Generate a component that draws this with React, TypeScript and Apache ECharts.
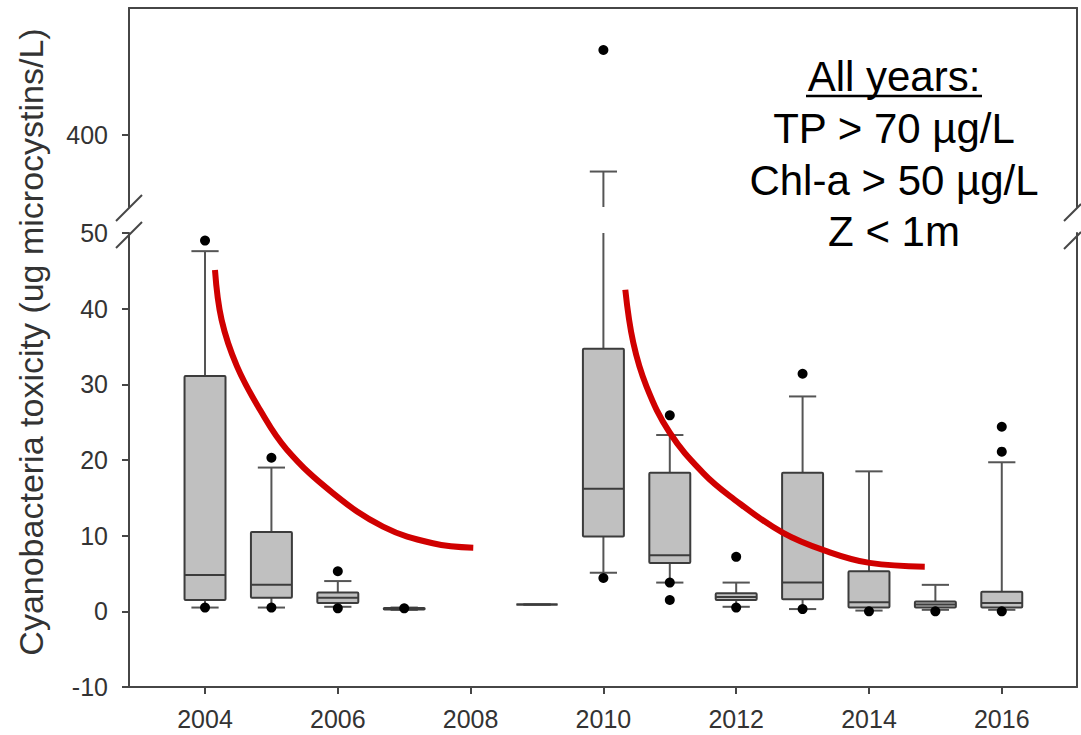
import React, { useEffect, useRef } from "react";
import * as echarts from "echarts";

// ---- data ----
const years = [2004, 2005, 2006, 2007, 2009, 2010, 2011, 2012, 2013, 2014, 2015, 2016];
const whiskerLow = [0.5, 0.5, 0.6, 0.2, 0.9, 5.1, 3.8, 0.6, 0.3, 0.1, 0.2, 0.2];
const quartile1 = [1.5, 1.8, 1.1, 0.25, 0.9, 9.9, 6.4, 1.5, 1.6, 0.5, 0.5, 0.5];
const medians = [4.8, 3.5, 1.8, 0.35, 0.9, 16.2, 7.4, 1.9, 3.8, 1.2, 0.9, 1.1];
const quartile3 = [31.1, 10.5, 2.5, 0.45, 0.9, 34.7, 18.3, 2.4, 18.3, 5.3, 1.3, 2.6];
const whiskerHigh = [47.6, 19.0, 4.0, 0.5, 0.9, 349, 23.3, 3.8, 28.4, 18.5, 3.5, 19.7];

const outliers: [number, number][] = [
  [2004, 49.0], [2004, 0.5],
  [2005, 20.3], [2005, 0.5],
  [2006, 5.3], [2006, 0.4],
  [2007, 0.4],
  [2010, 4.4],
  [2011, 25.9], [2011, 3.8], [2011, 1.5],
  [2012, 7.2], [2012, 0.5],
  [2013, 31.4], [2013, 0.3],
  [2014, 0.0],
  [2015, 0.0],
  [2016, 24.4], [2016, 21.1], [2016, 0.0],
];
const upperOutliers: [number, number][] = [[2010, 517]];

const curveA: [number, number][] = [
  [2004.15, 45.1], [2004.25, 38.5], [2004.48, 32.4], [2004.83, 26.6],
  [2005.23, 21.4], [2005.93, 15.6], [2006.68, 11.2], [2007.43, 9.0], [2008.04, 8.4],
];
const curveB: [number, number][] = [
  [2010.33, 42.5], [2010.45, 35.5], [2010.65, 29.7], [2011.0, 23.6], [2011.5, 18.3],
  [2011.91, 15.2], [2012.7, 10.4], [2013.41, 7.8], [2014.01, 6.4], [2014.84, 5.9],
];

const xTickLabels = [2004, 2006, 2008, 2010, 2012, 2014, 2016];
const lowerRange = [-10, 50];
const upperRange = [300, 575];
const upperTicks = [400];
const noteLines = ["All years:", "TP > 70 µg/L", "Chl-a > 50 µg/L", "Z < 1m"];

// ---- styles ----
const FONT = "'Liberation Sans', Arial, Helvetica, sans-serif";
const AXIS_COLOR = "#464646";
const BOX_W = 0.617;
const CAP_W = 0.41;
const BOX_FILL = "#c0c0c0";
const BOX_STROKE = "#3c3c3c";
const WHISKER = "#555555";
const RED = "#d00000";

const X_MIN = 2002.855;
const X_MAX = 2017.133;

export default function App() {
  const ref = useRef<HTMLDivElement>(null);

  useEffect(() => {
    document.body.style.margin = "0";
    if (!ref.current) return;
    const chart = echarts.init(ref.current, undefined, { renderer: "svg" });

    const boxData = years.map((y, i) => [
      y, whiskerLow[i], quartile1[i], medians[i], quartile3[i], whiskerHigh[i],
    ]);
    const upperWhiskers = years
      .map((y, i) => [y, whiskerHigh[i]])
      .filter((d) => d[1] > upperRange[0]);

    const renderLower = (params: any, api: any) => {
      const x = api.value(0);
      const lo = api.value(1);
      const q1 = api.value(2);
      const med = api.value(3);
      const q3 = api.value(4);
      const hi = api.value(5);
      const top = lowerRange[1];
      const bw = api.size([BOX_W, 0])[0];
      const cw = api.size([CAP_W, 0])[0];
      const pLo = api.coord([x, lo]);
      const pQ1 = api.coord([x, q1]);
      const pMed = api.coord([x, med]);
      const pQ3 = api.coord([x, q3]);
      const pHi = api.coord([x, Math.min(hi, top)]);
      const cx = pQ1[0];
      const wStyle = { stroke: WHISKER, lineWidth: 2 };
      const children: any[] = [
        { type: "line", shape: { x1: cx, y1: pQ1[1], x2: cx, y2: pLo[1] }, style: wStyle },
        { type: "line", shape: { x1: cx - cw / 2, y1: pLo[1], x2: cx + cw / 2, y2: pLo[1] }, style: wStyle },
        { type: "line", shape: { x1: cx, y1: pQ3[1], x2: cx, y2: pHi[1] }, style: wStyle },
      ];
      if (hi <= top) {
        children.push({
          type: "line",
          shape: { x1: cx - cw / 2, y1: pHi[1], x2: cx + cw / 2, y2: pHi[1] },
          style: wStyle,
        });
      }
      children.push({
        type: "rect",
        shape: { x: cx - bw / 2, y: pQ3[1], width: bw, height: pQ1[1] - pQ3[1], r: 1 },
        style: { fill: BOX_FILL, stroke: BOX_STROKE, lineWidth: 2 },
      });
      children.push({
        type: "line",
        shape: { x1: cx - bw / 2, y1: pMed[1], x2: cx + bw / 2, y2: pMed[1] },
        style: { stroke: BOX_STROKE, lineWidth: 2 },
      });
      return { type: "group", children };
    };

    const renderUpper = (params: any, api: any) => {
      const x = api.value(0);
      const hi = api.value(1);
      const cw = api.size([CAP_W, 0])[0];
      const pBase = api.coord([x, upperRange[0]]);
      const pHi = api.coord([x, hi]);
      const cx = pHi[0];
      const wStyle = { stroke: WHISKER, lineWidth: 2 };
      return {
        type: "group",
        children: [
          { type: "line", shape: { x1: cx, y1: pBase[1], x2: cx, y2: pHi[1] }, style: wStyle },
          { type: "line", shape: { x1: cx - cw / 2, y1: pHi[1], x2: cx + cw / 2, y2: pHi[1] }, style: wStyle },
        ],
      };
    };

    const axisLine = { show: true, onZero: false, lineStyle: { color: AXIS_COLOR, width: 2 } };
    const labelStyle = { color: "#333", fontSize: 25, fontFamily: FONT };

    const noteCenters = [76, 128, 180, 231];

    chart.setOption({
      animation: false,
      grid: [
        { left: 129, right: 4, top: 233, height: 454 },
        { left: 129, right: 4, top: 8, height: 199 },
      ],
      xAxis: [
        {
          gridIndex: 0, type: "value", min: X_MIN, max: X_MAX, position: "bottom",
          axisLine,
          axisTick: { show: true, length: 7, customValues: xTickLabels, lineStyle: { color: AXIS_COLOR, width: 2 } },
          axisLabel: { ...labelStyle, margin: 19, customValues: xTickLabels, formatter: (v: number) => String(v) },
          splitLine: { show: false },
        },
        {
          gridIndex: 1, type: "value", min: X_MIN, max: X_MAX, position: "top",
          axisLine, axisTick: { show: false }, axisLabel: { show: false }, splitLine: { show: false },
        },
      ],
      yAxis: [
        {
          gridIndex: 0, type: "value", min: lowerRange[0], max: lowerRange[1], interval: 10, position: "left",
          axisLine,
          axisTick: { show: true, length: 7, lineStyle: { color: AXIS_COLOR, width: 2 } },
          axisLabel: { ...labelStyle, margin: 21 },
          splitLine: { show: false },
        },
        {
          gridIndex: 1, type: "value", min: upperRange[0], max: upperRange[1], position: "left",
          axisLine,
          axisTick: { show: true, length: 7, customValues: upperTicks, lineStyle: { color: AXIS_COLOR, width: 2 } },
          axisLabel: { ...labelStyle, margin: 21, customValues: upperTicks },
          splitLine: { show: false },
        },
        {
          gridIndex: 0, type: "value", min: lowerRange[0], max: lowerRange[1], position: "right",
          axisLine, axisTick: { show: false }, axisLabel: { show: false }, splitLine: { show: false },
        },
        {
          gridIndex: 1, type: "value", min: upperRange[0], max: upperRange[1], position: "right",
          axisLine, axisTick: { show: false }, axisLabel: { show: false }, splitLine: { show: false },
        },
      ],
      series: [
        {
          type: "custom", xAxisIndex: 0, yAxisIndex: 0, renderItem: renderLower,
          data: boxData, encode: { x: 0, y: [1, 2, 3, 4, 5] }, z: 2,
        },
        {
          type: "custom", xAxisIndex: 1, yAxisIndex: 1, renderItem: renderUpper,
          data: upperWhiskers, encode: { x: 0, y: 1 }, z: 2,
        },
        {
          type: "line", xAxisIndex: 0, yAxisIndex: 0, data: curveA, smooth: 0.4,
          symbol: "none", lineStyle: { color: RED, width: 6, join: "round" }, z: 3,
        },
        {
          type: "line", xAxisIndex: 0, yAxisIndex: 0, data: curveB, smooth: 0.4,
          symbol: "none", lineStyle: { color: RED, width: 6, join: "round" }, z: 3,
        },
        {
          type: "scatter", xAxisIndex: 0, yAxisIndex: 0, data: outliers, symbolSize: 10,
          itemStyle: { color: "#000", opacity: 1 }, z: 4,
        },
        {
          type: "scatter", xAxisIndex: 1, yAxisIndex: 1, data: upperOutliers, symbolSize: 10,
          itemStyle: { color: "#000", opacity: 1 }, z: 4,
        },
      ],
      graphic: [
        {
          type: "text", x: 31, y: 342, rotation: Math.PI / 2,
          style: {
            text: "Cyanobacteria toxicity (ug microcystins/L)",
            font: `34px ${FONT}`, fill: "#333", align: "center", verticalAlign: "middle",
          },
        },
        ...noteLines.map((t, i) => ({
          type: "text", x: 894, y: noteCenters[i],
          style: { text: t, font: `42px ${FONT}`, fill: "#000", align: "center", verticalAlign: "middle" },
        })),
        { type: "line", shape: { x1: 806, y1: 96, x2: 982, y2: 96 }, style: { stroke: "#000", lineWidth: 2.5 } },
        { type: "line", shape: { x1: 116, y1: 221, x2: 142, y2: 195 }, style: { stroke: AXIS_COLOR, lineWidth: 2 } },
        { type: "line", shape: { x1: 116, y1: 248, x2: 142, y2: 222 }, style: { stroke: AXIS_COLOR, lineWidth: 2 } },
        { type: "line", shape: { x1: 1064, y1: 221, x2: 1081, y2: 204 }, style: { stroke: AXIS_COLOR, lineWidth: 2 } },
        { type: "line", shape: { x1: 1064, y1: 249, x2: 1081, y2: 232 }, style: { stroke: AXIS_COLOR, lineWidth: 2 } },
      ],
    });

    return () => chart.dispose();
  }, []);

  return <div ref={ref} style={{ width: 1081, height: 735 }} />;
}
